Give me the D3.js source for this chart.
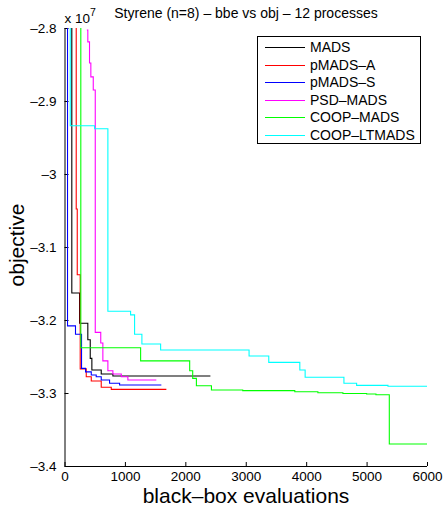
<!DOCTYPE html>
<html>
<head>
<meta charset="utf-8">
<script src="https://cdn.jsdelivr.net/npm/d3@7"></script>
<style>
body { margin: 0; background: #fff; }
text { font-family: "Liberation Sans", Arial, sans-serif; fill: #000; }
</style>
</head>
<body>
<svg></svg>
<script>
var w = 444, h = 507

// series names + colours (legend order)
var names = ["MADS", "pMADS\u2013A", "pMADS\u2013S", "PSD\u2013MADS", "COOP\u2013MADS", "COOP\u2013LTMADS"]
var colors = ["#000000", "#ff0000", "#0000ff", "#ff00ff", "#00ff00", "#00ffff"]

// step points [bbe, objective / 1e7], value holds until next point
var mads = [[121, -2.7], [121, -3.163], [249, -3.2045], [386, -3.227], [426, -3.2525], [453, -3.2685],
    [608, -3.274], [801, -3.2767], [2415, -3.2767]]
var pmadsA = [[194, -2.7], [194, -3.048], [211, -3.138], [260, -3.267], [360, -3.2777], [443, -3.2836],
    [608, -3.2922], [774, -3.295], [1686, -3.295]]
var pmadsS = [[50, -2.7], [50, -3.208], [182, -3.2196], [282, -3.2662], [348, -3.271], [443, -3.2753],
    [525, -3.2777], [608, -3.2822], [746, -3.2867], [912, -3.289], [1603, -3.289]]
var psd = [[370, -2.8027], [386, -2.819], [414, -2.848], [436, -2.867], [476, -2.885], [509, -3.217],
    [600, -3.2315], [635, -3.256], [718, -3.2695], [801, -3.274], [940, -3.2777], [1049, -3.2822], [1520, -3.2822]]
var coop = [[270, -2.7], [270, -3.238], [1260, -3.256], [2072, -3.2695], [2122, -3.28], [2183, -3.290],
    [2432, -3.2959], [2950, -3.2968], [3812, -3.2982], [4194, -3.2996], [4608, -3.3007], [5001, -3.3014],
    [5155, -3.3023], [5376, -3.3699], [6000, -3.3699]]
var coopLt = [[95, -2.7], [95, -2.934], [497, -2.938], [718, -3.188], [1094, -3.193], [1160, -3.2196],
    [1281, -3.2329], [1591, -3.241], [3055, -3.2493], [3381, -3.258], [3895, -3.2685], [3983, -3.2785],
    [4625, -3.2867], [4835, -3.2895], [5354, -3.2908], [6000, -3.2908]]
var series = [mads, pmadsA, pmadsS, psd, coop, coopLt]

var xTicks = [0, 1000, 2000, 3000, 4000, 5000, 6000]
var yTicks = [-2.8, -2.9, -3, -3.1, -3.2, -3.3, -3.4]

var mLeft = 64.5, mRight = 427, mTop = 28, mBottom = 466

var svg = d3.select("svg")
    .attr("width", w)
    .attr("height", h)

var x = d3.scaleLinear().domain([0, 6000]).range([mLeft, mRight])
var y = d3.scaleLinear().domain([-2.8, -3.4]).range([mTop, mBottom])

svg.append("defs").append("clipPath")
    .attr("id", "plotclip")
    .append("rect")
        .attr("x", mLeft)
        .attr("y", mTop)
        .attr("width", mRight - mLeft + 1)
        .attr("height", mBottom - mTop)

var fmt = function(d) { return d3.format("")(d).replace("-", "\u2013").replace("\u2212", "\u2013") }

// axes (ticks inside, like matlab)
var xAxis = svg.append("g")
    .attr("transform", "translate(0," + mBottom + ")")
    .call(d3.axisBottom(x).tickValues(xTicks).tickSize(-4).tickPadding(5).tickFormat(d3.format("d")))
var yAxis = svg.append("g")
    .attr("transform", "translate(" + mLeft + ",0)")
    .call(d3.axisLeft(y).tickValues(yTicks).tickSize(-4).tickPadding(8).tickFormat(fmt))

svg.selectAll(".tick text")
    .attr("font-size", 13.5)
    .attr("font-family", "Liberation Sans, Arial, sans-serif")
svg.selectAll(".domain").attr("stroke", "#000")
xAxis.select(".domain").attr("d", "M" + mLeft + ",0.5H" + mRight)
yAxis.select(".domain").attr("d", "M0.5," + mTop + "V" + mBottom)

var line = d3.line()
    .x(function(d) { return x(d[0]) })
    .y(function(d) { return y(d[1]) })
    .curve(d3.curveStepAfter)

svg.append("g")
    .attr("clip-path", "url(#plotclip)")
    .selectAll("path")
    .data(series)
    .join("path")
        .attr("d", line)
        .attr("fill", "none")
        .attr("stroke", function(d, i) { return colors[i] })
        .attr("stroke-width", 1.1)

// exponent
var ex = svg.append("text")
    .attr("x", mLeft)
    .attr("y", 23)
    .attr("font-size", 13.5)
ex.append("tspan").text("x 10")
ex.append("tspan").attr("dy", -7).attr("font-size", 10.5).text("7")

svg.append("text")
    .attr("x", 246)
    .attr("y", 18)
    .attr("text-anchor", "middle")
    .attr("font-size", 14)
    .text("Styrene (n=8) \u2013 bbe vs obj \u2013 12 processes")

svg.append("text")
    .attr("x", 246)
    .attr("y", 503)
    .attr("text-anchor", "middle")
    .attr("font-size", 21)
    .text("black\u2013box evaluations")

svg.append("text")
    .attr("transform", "translate(24,245) rotate(-90)")
    .attr("text-anchor", "middle")
    .attr("font-size", 21)
    .text("objective")

// legend
var lg = svg.append("g").attr("transform", "translate(257,36)")
lg.append("rect")
    .attr("x", 0.5)
    .attr("y", 0.5)
    .attr("width", 163)
    .attr("height", 107)
    .attr("fill", "#fff")
    .attr("stroke", "#000")
var item = lg.selectAll("g.item")
    .data(names)
    .join("g")
        .attr("class", "item")
        .attr("transform", function(d, i) { return "translate(0," + Math.round(11 + i * 17.5) + ")" })
item.append("line")
    .attr("x1", 8)
    .attr("x2", 48)
    .attr("y1", 0.5)
    .attr("y2", 0.5)
    .attr("stroke-width", 1.2)
    .attr("stroke", function(d, i) { return colors[i] })
item.append("text")
    .attr("x", 53)
    .attr("y", 5)
    .attr("font-size", 14)
    .text(function(d) { return d })
</script>
</body>
</html>
